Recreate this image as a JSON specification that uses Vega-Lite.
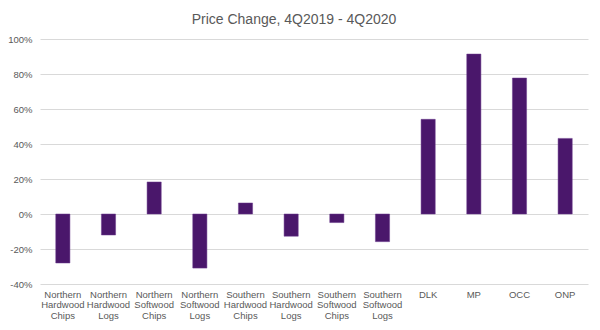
{
  "$schema": "https://vega.github.io/schema/vega-lite/v6.json",
  "width": 548,
  "height": 245,
  "autosize": "none",
  "padding": {"left": 40, "top": 39, "right": 12, "bottom": 46},
  "background": "white",
  "title": {
    "text": "Price Change, 4Q2019 - 4Q2020",
    "font": "Liberation Sans",
    "fontSize": 14,
    "fontWeight": "normal",
    "color": "#595959",
    "anchor": "middle",
    "dx": -20,
    "baseline": "alphabetic",
    "offset": 15,
    "dy": 19
  },
  "data": {
    "values": [
      {"cat": "Northern Hardwood Chips", "value": -0.28},
      {"cat": "Northern Hardwood Logs", "value": -0.12},
      {"cat": "Northern Softwood Chips", "value": 0.183},
      {"cat": "Northern Softwood Logs", "value": -0.309},
      {"cat": "Southern Hardwood Chips", "value": 0.063},
      {"cat": "Southern Hardwood Logs", "value": -0.127},
      {"cat": "Southern Softwood Chips", "value": -0.049},
      {"cat": "Southern Softwood Logs", "value": -0.158},
      {"cat": "DLK", "value": 0.541},
      {"cat": "MP", "value": 0.914},
      {"cat": "OCC", "value": 0.777},
      {"cat": "ONP", "value": 0.432}
    ]
  },
  "mark": {"type": "bar", "color": "#4A176B", "stroke": "#6A3A8C", "strokeWidth": 0.5},
  "encoding": {
    "x": {
      "field": "cat",
      "type": "nominal",
      "sort": null,
      "scale": {"paddingInner": 0.69, "paddingOuter": 0.345},
      "axis": {
        "title": null,
        "labelAngle": 0,
        "domain": false,
        "ticks": false,
        "tickSize": 0,
        "labelExpr": "split(datum.label, ' ')",
        "labelFont": "Liberation Sans",
        "labelFontSize": 9.5,
        "labelColor": "#595959",
        "labelPadding": 5,
        "labelLineHeight": 10.5,
        "labelBaseline": "top",
        "labelLimit": 0
      }
    },
    "y": {
      "field": "value",
      "type": "quantitative",
      "scale": {"domain": [-0.4, 1], "nice": false},
      "axis": {
        "title": null,
        "values": [-0.4, -0.2, 0, 0.2, 0.4, 0.6, 0.8, 1],
        "domain": false,
        "ticks": false,
        "tickSize": 0,
        "labelExpr": "replace(format(datum.value, '.0%'), '\u2212', '-')",
        "labelFont": "Liberation Sans",
        "labelFontSize": 9.5,
        "labelColor": "#595959",
        "labelPadding": 8,
        "gridColor": "#d9d9d9",
        "gridWidth": 1
      }
    }
  },
  "config": {"view": {"stroke": null}}
}
